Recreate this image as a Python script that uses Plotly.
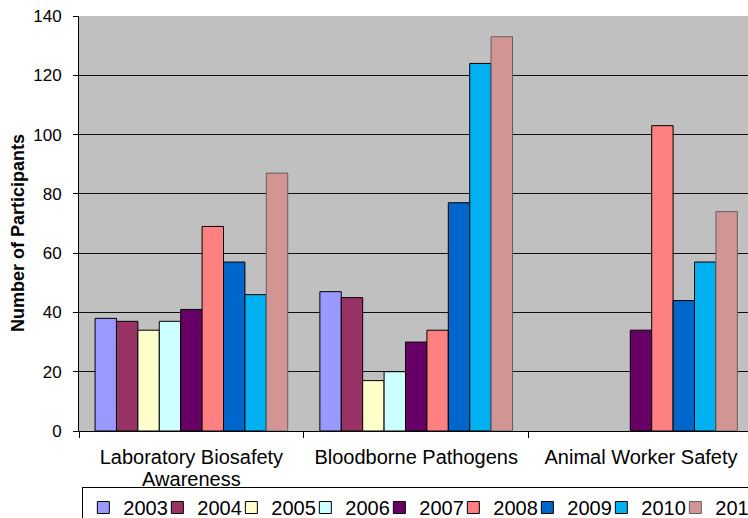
"""Participants per training course, grouped by year (clustered bars)."""
import plotly.graph_objects as go

COURSES = ["Laboratory Biosafety<br>Awareness", "Bloodborne Pathogens", "Animal Worker Safety"]
YEARS = ["2003", "2004", "2005", "2006", "2007", "2008", "2009", "2010", "2011"]

# participants per year, one value per course (None = course not offered)
P_2003 = [38, 47, None]
P_2004 = [37, 45, None]
P_2005 = [34, 17, None]
P_2006 = [37, 20, None]
P_2007 = [41, 30, 34]
P_2008 = [69, 34, 103]
P_2009 = [57, 77, 44]
P_2010 = [46, 124, 57]
P_2011 = [87, 133, 74]

SERIES = [P_2003, P_2004, P_2005, P_2006, P_2007, P_2008, P_2009, P_2010, P_2011]

BAR_COLORS = [
    "#9999FF", "#993366", "#FFFFCC", "#CCFFFF", "#660066",
    "#FF8080", "#0066CC", "#00B0F0", "#D39494",
]
EDGE_COLORS = ["#000000"] * 8 + ["#606060"]

FONT = "Liberation Sans, Arial, sans-serif"


def _tight_label(label: str) -> str:
    # glyphs at 20px while line spacing follows the smaller tick font
    return "<br>".join(
        f"<span style='font-size:20px'>{part}</span>" for part in label.split("<br>")
    )


fig = go.Figure()
for year, values, fill, edge in zip(YEARS, SERIES, BAR_COLORS, EDGE_COLORS):
    fig.add_trace(
        go.Bar(
            x=COURSES,
            y=values,
            name=year,
            marker={"color": fill, "line": {"color": edge, "width": 1}},
        )
    )

fig.update_layout(
    width=748,
    height=518,
    barmode="group",
    bargap=0.143,
    bargroupgap=0,
    plot_bgcolor="#C0C0C0",
    paper_bgcolor="white",
    font={"family": FONT, "color": "black"},
    margin={"l": 79, "r": 0, "t": 16, "b": 87, "autoexpand": False},
    showlegend=True,
    legend={
        "orientation": "h",
        "x": 0.005,
        "xanchor": "left",
        "y": -0.135,
        "yanchor": "top",
        "bgcolor": "white",
        "bordercolor": "black",
        "borderwidth": 1,
        "font": {"size": 20, "family": FONT},
        "entrywidth": 29,
        "traceorder": "normal",
    },
)

# axis title drawn as an annotation so it can sit a bit below the plot centre
fig.add_annotation(
    text="<b>Number of Participants</b>",
    xref="paper",
    yref="paper",
    x=0,
    y=0.477,
    xshift=-61,
    xanchor="center",
    yanchor="middle",
    textangle=-90,
    showarrow=False,
    font={"size": 18},
)

fig.update_xaxes(
    automargin=False,
    range=[-0.5, 2.476],
    tickmode="array",
    tickvals=COURSES,
    ticktext=[_tight_label(c) for c in COURSES],
    showline=True,
    linecolor="black",
    linewidth=1,
    ticks="outside",
    tickson="boundaries",
    ticklen=6,
    tickcolor="black",
    tickfont={"size": 16.7},
    ticklabelstandoff=12,
    showgrid=False,
)

fig.update_yaxes(
    automargin=False,
    range=[0, 140],
    dtick=20,
    showline=True,
    linecolor="black",
    linewidth=1,
    ticks="outside",
    ticklen=5,
    tickcolor="black",
    tickfont={"size": 17},
    ticklabelstandoff=8,
    showgrid=True,
    gridcolor="#101010",
    gridwidth=1,
    zeroline=False,
)

# the page's default body margin would offset the chart by 8px
fig.write_html(
    "out.html",
    config={"displayModeBar": False},
    post_script="document.body.style.margin = '0';",
)
